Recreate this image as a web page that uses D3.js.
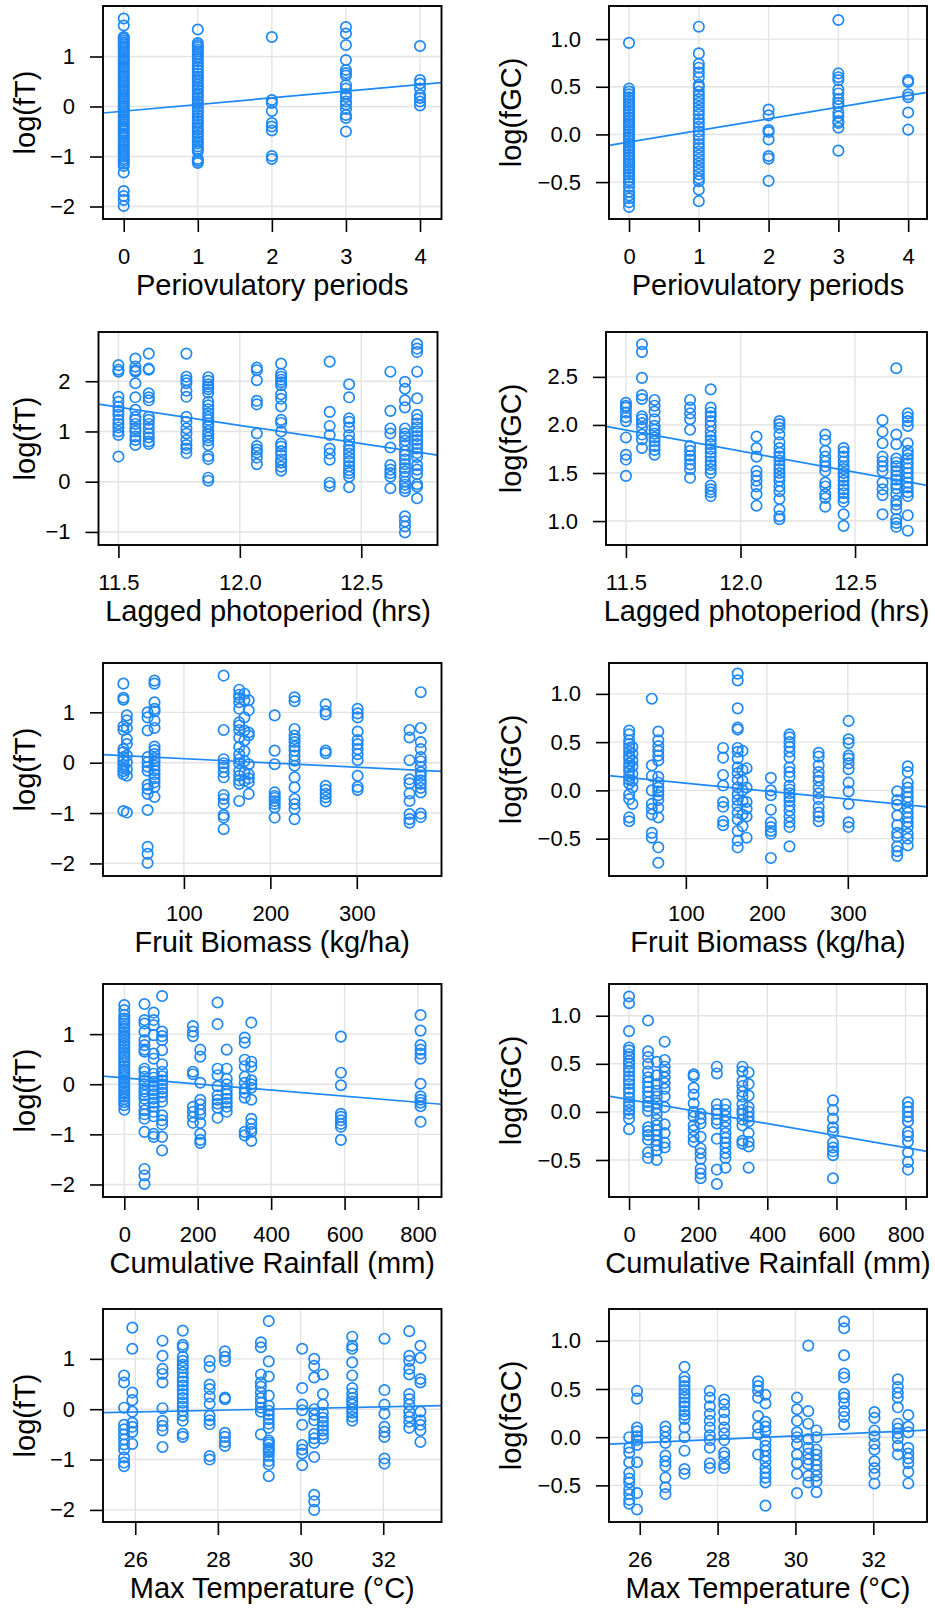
<!DOCTYPE html>
<html>
<head>
<meta charset="utf-8">
<style>
    body {
        margin: 0;
        background: #fff;
    }
    svg {
        display: block;
        font-family: 'Liberation Sans', Arial, Helvetica, sans-serif;
    }
</style>
</head>
<body>
<svg width="935" height="1608"></svg>

<script src="https://d3js.org/d3.v7.min.js"></script>
<script>
    // ---- data ----

    // row 1: periovulatory periods
    const perioX = [0, 1, 2, 3, 4];
    const perioFT = [
        [1.76, 1.62, 1.39, 1.36, 1.32, 1.28, 1.25, 1.21, 1.17, 1.12, 1.08, 1.03, 0.98, 0.94, 0.9, 0.85, 0.8, 0.76, 0.71, 0.67, 0.62, 0.57, 0.53, 0.48, 0.43, 0.39, 0.34, 0.3, 0.25, 0.2, 0.16, 0.11, 0.07, 0.02, -0.03, -0.07, -0.12, -0.17, -0.21, -0.26, -0.3, -0.35, -0.4, -0.44, -0.49, -0.54, -0.58, -0.63, -0.68, -0.72, -0.77, -0.81, -0.86, -0.91, -0.95, -1.0, -1.05, -1.09, -1.14, -1.19, -1.32, -1.69, -1.79, -1.87, -1.99],
        [1.54, 1.27, 1.23, 1.19, 1.14, 1.1, 1.05, 1.0, 0.95, 0.9, 0.84, 0.78, 0.72, 0.66, 0.6, 0.55, 0.5, 0.44, 0.38, 0.33, 0.27, 0.22, 0.16, 0.1, 0.05, -0.01, -0.07, -0.12, -0.18, -0.24, -0.3, -0.35, -0.41, -0.46, -0.52, -0.58, -0.63, -0.69, -0.74, -0.8, -0.85, -0.9, -1.05, -1.09, -1.13],
        [1.39, 0.13, 0.07, -0.09, -0.33, -0.4, -0.48, -0.99, -1.05],
        [1.59, 1.46, 1.23, 0.93, 0.73, 0.67, 0.62, 0.43, 0.36, 0.25, 0.19, 0.1, 0.04, -0.05, -0.17, -0.23, -0.5],
        [1.21, 0.53, 0.46, 0.36, 0.23, 0.17, 0.1, 0.02]
    ];
    const perioFGC = [
        [0.96, 0.48, 0.45, 0.42, 0.39, 0.36, 0.33, 0.3, 0.27, 0.24, 0.21, 0.18, 0.15, 0.12, 0.09, 0.06, 0.03, 0.0, -0.03, -0.06, -0.09, -0.12, -0.15, -0.18, -0.21, -0.24, -0.27, -0.3, -0.33, -0.36, -0.39, -0.42, -0.45, -0.48, -0.51, -0.55, -0.6, -0.64, -0.67, -0.71, -0.76],
        [1.13, 0.85, 0.74, 0.7, 0.65, 0.6, 0.52, 0.5, 0.45, 0.41, 0.37, 0.33, 0.29, 0.25, 0.21, 0.16, 0.12, 0.08, 0.03, -0.01, -0.05, -0.1, -0.14, -0.18, -0.22, -0.26, -0.3, -0.34, -0.38, -0.42, -0.46, -0.49, -0.58, -0.7],
        [0.26, 0.2, 0.045, 0.025, -0.052, -0.226, -0.254, -0.487],
        [1.2, 0.64, 0.6, 0.57, 0.47, 0.43, 0.37, 0.33, 0.3, 0.23, 0.19, 0.14, 0.12, 0.07, -0.17],
        [0.57, 0.55, 0.42, 0.39, 0.23, 0.05]
    ];

    // row 2: lagged photoperiod
    const photoX = [11.5, 11.57, 11.625, 11.78, 11.87, 12.07, 12.17, 12.37, 12.45, 12.62, 12.68, 12.73];
    const photoFT = [
        [2.32, 2.23, 2.19, 1.69, 1.59, 1.49, 1.41, 1.33, 1.23, 1.15, 1.08, 1.0, 0.93, 0.5],
        [2.45, 2.29, 2.22, 2.19, 1.96, 1.68, 1.43, 1.29, 1.23, 1.15, 1.06, 1.0, 0.9, 0.83, 0.73],
        [2.55, 2.25, 2.23, 1.76, 1.68, 1.62, 1.29, 1.23, 1.15, 1.06, 0.96, 0.88, 0.8, 0.75],
        [2.55, 2.09, 2.02, 1.96, 1.81, 1.69, 1.29, 1.19, 1.06, 0.96, 0.83, 0.73, 0.66, 0.57],
        [2.08, 2.01, 1.94, 1.89, 1.84, 1.77, 1.59, 1.52, 1.44, 1.36, 1.29, 1.23, 1.16, 1.1, 1.01, 0.95, 0.88, 0.82, 0.73, 0.51, 0.45, 0.08, 0.02],
        [2.27, 2.22, 2.02, 1.61, 1.54, 0.96, 0.71, 0.64, 0.58, 0.48, 0.35],
        [2.35, 2.15, 2.09, 2.03, 1.98, 1.92, 1.74, 1.65, 1.5, 1.23, 1.17, 1.0, 0.76, 0.7, 0.61, 0.53, 0.44, 0.38, 0.3, 0.22],
        [2.39, 1.39, 1.11, 0.93, 0.66, 0.56, 0.44, -0.02, -0.09],
        [1.94, 1.68, 1.26, 1.19, 1.08, 0.93, 0.82, 0.71, 0.63, 0.56, 0.48, 0.4, 0.31, 0.23, 0.17, 0.1, -0.11],
        [2.19, 1.41, 1.06, 0.96, 0.68, 0.33, 0.24, 0.17, 0.1, -0.13],
        [1.99, 1.85, 1.62, 1.48, 1.06, 0.96, 0.9, 0.82, 0.73, 0.61, 0.53, 0.44, 0.35, 0.27, 0.2, 0.1, 0.0, -0.06, -0.13, -0.19, -0.69, -0.79, -0.89, -1.01],
        [2.74, 2.65, 2.58, 2.19, 1.66, 1.33, 1.24, 1.16, 1.08, 1.0, 0.91, 0.83, 0.75, 0.66, 0.57, 0.49, 0.33, 0.24, 0.15, -0.05, -0.1, -0.33]
    ];
    const photoFGC = [
        [2.23, 2.2, 2.18, 2.13, 2.08, 2.04, 1.87, 1.69, 1.64, 1.47],
        [2.84, 2.76, 2.49, 2.31, 2.27, 2.09, 2.06, 2.02, 1.97, 1.9, 1.85, 1.76],
        [2.26, 2.2, 2.14, 2.06, 1.99, 1.95, 1.91, 1.87, 1.83, 1.78, 1.74, 1.69],
        [2.26, 2.18, 2.12, 2.06, 1.95, 1.78, 1.73, 1.68, 1.64, 1.59, 1.54, 1.45],
        [2.37, 2.18, 2.13, 2.09, 2.04, 1.99, 1.93, 1.88, 1.84, 1.8, 1.75, 1.71, 1.67, 1.62, 1.58, 1.54, 1.5, 1.37, 1.33, 1.3, 1.26],
        [1.88, 1.76, 1.67, 1.52, 1.47, 1.42, 1.36, 1.28, 1.16],
        [2.04, 2.01, 1.97, 1.9, 1.82, 1.76, 1.71, 1.67, 1.63, 1.58, 1.54, 1.5, 1.46, 1.42, 1.36, 1.31, 1.23, 1.12, 1.05, 1.02],
        [1.9, 1.84, 1.73, 1.67, 1.62, 1.57, 1.52, 1.4, 1.36, 1.28, 1.24, 1.15],
        [1.76, 1.72, 1.67, 1.62, 1.57, 1.54, 1.5, 1.46, 1.42, 1.37, 1.33, 1.29, 1.24, 1.2, 1.07, 0.95],
        [2.05, 1.93, 1.81, 1.67, 1.62, 1.57, 1.52, 1.4, 1.33, 1.27, 1.07],
        [2.59, 1.9, 1.8, 1.65, 1.61, 1.57, 1.52, 1.47, 1.43, 1.38, 1.34, 1.28, 1.21, 1.17, 1.12, 1.02, 0.98, 0.94],
        [2.12, 2.08, 2.04, 1.99, 1.81, 1.73, 1.69, 1.65, 1.6, 1.55, 1.5, 1.45, 1.4, 1.35, 1.3, 1.26, 1.06, 0.9]
    ];

    // row 3: fruit biomass
    const fruitX = [30, 34, 58, 66, 146, 164, 170, 175, 205, 228, 264, 301, 361, 374];
    const fruitFT = [
        [1.57, 1.29, 1.25, 0.72, 0.65, 0.27, 0.21, 0.11, 0.04, -0.04, -0.11, -0.17, -0.23, -0.96],
        [0.94, 0.84, 0.69, 0.47, 0.37, 0.14, 0.01, -0.13, -0.26, -0.99],
        [1.0, 0.9, 0.64, 0.11, 0.01, -0.08, -0.16, -0.44, -0.52, -0.62, -0.94, -1.67, -1.81, -1.99],
        [1.63, 1.57, 1.2, 1.07, 1.02, 0.84, 0.69, 0.32, 0.25, 0.17, 0.09, 0.03, -0.06, -0.15, -0.23, -0.31, -0.39, -0.48, -0.68],
        [1.73, 0.65, 0.07, -0.01, -0.09, -0.19, -0.29, -0.64, -0.72, -0.82, -1.04, -1.09, -1.32],
        [1.45, 1.35, 1.29, 1.2, 1.07, 0.8, 0.74, 0.65, 0.5, 0.31, 0.17, 0.07, -0.01, -0.16, -0.26, -0.35, -0.42, -0.76],
        [1.37, 1.24, 0.9, 0.64, 0.44, 0.23, 0.03, -0.19, -0.36],
        [1.24, 1.04, 0.6, 0.54, -0.03, -0.23, -0.31, -0.39, -0.62],
        [0.94, 0.24, -0.03, -0.59, -0.66, -0.7, -0.76, -0.82, -0.89, -1.09],
        [1.3, 1.22, 0.67, 0.54, 0.47, 0.41, 0.32, 0.24, 0.14, 0.04, -0.06, -0.29, -0.49, -0.72, -0.82, -0.92, -1.12],
        [1.16, 1.02, 0.96, 0.24, 0.19, -0.46, -0.54, -0.62, -0.69, -0.77],
        [1.07, 0.98, 0.9, 0.62, 0.45, 0.37, 0.27, 0.17, 0.05, -0.26, -0.48, -0.54],
        [0.65, 0.5, 0.05, -0.33, -0.41, -0.61, -0.76, -1.02, -1.12, -1.19],
        [1.4, 0.69, 0.41, 0.27, 0.11, 0.03, -0.08, -0.19, -0.26, -0.35, -0.42, -0.5, -0.59, -1.01, -1.08]
    ];
    const fruitFGC = [
        [0.62, 0.58, 0.52, 0.48, 0.44, 0.4, 0.36, 0.33, 0.28, 0.24, 0.2, 0.15, 0.11, 0.07, -0.04, -0.09, -0.28, -0.32],
        [0.45, 0.38, 0.31, 0.25, 0.17, 0.1, 0.03, -0.14],
        [0.95, 0.26, 0.15, 0.0, -0.14, -0.19, -0.25, -0.44, -0.49],
        [0.61, 0.52, 0.46, 0.41, 0.36, 0.31, 0.14, 0.08, 0.03, -0.01, -0.05, -0.1, -0.18, -0.28, -0.59, -0.75],
        [0.44, 0.34, 0.16, 0.05, -0.12, -0.17, -0.32, -0.36],
        [1.21, 1.14, 0.85, 0.65, 0.63, 0.44, 0.4, 0.33, 0.24, 0.18, 0.11, 0.03, -0.04, -0.1, -0.16, -0.23, -0.3, -0.42, -0.52, -0.59],
        [0.41, 0.21, 0.1, 0.0, -0.11, -0.25, -0.37],
        [0.23, 0.03, -0.12, -0.19, -0.27, -0.49],
        [0.13, 0.0, -0.05, -0.2, -0.33, -0.38, -0.42, -0.45, -0.7],
        [0.58, 0.55, 0.5, 0.45, 0.4, 0.34, 0.24, 0.19, 0.14, 0.05, 0.01, -0.03, -0.07, -0.11, -0.16, -0.21, -0.27, -0.33, -0.38, -0.58],
        [0.39, 0.35, 0.26, 0.19, 0.14, 0.1, 0.03, -0.03, -0.09, -0.17, -0.23, -0.27, -0.32],
        [0.72, 0.53, 0.49, 0.36, 0.33, 0.28, 0.22, 0.08, -0.01, -0.14, -0.33, -0.38],
        [-0.01, -0.1, -0.15, -0.26, -0.36, -0.44, -0.48, -0.58, -0.63, -0.68],
        [0.25, 0.19, 0.08, 0.03, -0.02, -0.07, -0.12, -0.18, -0.23, -0.28, -0.33, -0.38, -0.45, -0.5, -0.57]
    ];

    // row 4: cumulative rainfall
    const rainX = [0, 55, 80, 103, 187, 207, 254, 279, 328, 346, 590, 807];
    const rainFT = [
        [1.58, 1.48, 1.38, 1.31, 1.26, 1.21, 1.15, 1.1, 1.04, 0.98, 0.93, 0.87, 0.81, 0.76, 0.7, 0.64, 0.58, 0.53, 0.47, 0.42, 0.36, 0.3, 0.25, 0.19, 0.14, 0.08, 0.03, -0.03, -0.08, -0.14, -0.19, -0.25, -0.3, -0.36, -0.42, -0.51],
        [1.6, 1.28, 1.21, 1.05, 0.88, 0.78, 0.69, 0.65, 0.31, 0.25, 0.15, 0.07, 0.0, -0.09, -0.15, -0.22, -0.29, -0.4, -0.52, -0.6, -0.69, -0.95, -1.69, -1.82, -1.99],
        [1.43, 1.28, 1.18, 0.98, 0.61, 0.51, 0.21, 0.13, 0.05, -0.04, -0.12, -0.2, -0.29, -0.37, -0.45, -0.55, -0.64, -0.99, -1.05],
        [1.76, 1.05, 0.96, 0.88, 0.68, 0.4, 0.25, 0.16, 0.08, 0.0, -0.09, -0.17, -0.25, -0.35, -0.62, -0.72, -0.8, -1.05, -1.32],
        [1.16, 1.05, 0.96, 0.25, 0.2, -0.45, -0.55, -0.65, -0.77],
        [0.69, 0.55, 0.03, -0.31, -0.4, -0.51, -0.6, -0.77, -0.99, -1.11, -1.17],
        [1.63, 1.2, 0.31, 0.18, -0.04, -0.22, -0.31, -0.39, -0.47, -0.67],
        [0.69, 0.31, 0.11, 0.0, -0.11, -0.2, -0.29, -0.37, -0.45, -0.55],
        [0.93, 0.83, 0.49, 0.36, 0.15, 0.03, -0.09, -0.17, -0.27, -0.95, -1.02],
        [1.23, 0.45, 0.35, 0.08, 0.0, -0.07, -0.31, -0.69, -0.79, -0.89, -0.95, -1.13],
        [0.95, 0.23, -0.02, -0.59, -0.65, -0.72, -0.79, -0.85, -1.11],
        [1.38, 1.07, 0.78, 0.69, 0.61, 0.51, 0.01, -0.24, -0.31, -0.37, -0.44, -0.75]
    ];
    const rainFGC = [
        [1.2, 1.13, 0.84, 0.67, 0.64, 0.6, 0.57, 0.53, 0.5, 0.46, 0.42, 0.37, 0.33, 0.29, 0.24, 0.2, 0.15, 0.1, 0.06, 0.02, -0.02, -0.07, -0.18],
        [0.95, 0.63, 0.57, 0.5, 0.42, 0.36, 0.31, 0.26, 0.21, 0.16, 0.1, 0.06, 0.01, -0.16, -0.2, -0.24, -0.29, -0.42, -0.48],
        [0.52, 0.38, 0.29, 0.22, 0.16, 0.09, 0.04, -0.02, -0.08, -0.14, -0.19, -0.24, -0.3, -0.35, -0.4, -0.5],
        [0.73, 0.54, 0.47, 0.42, 0.36, 0.3, 0.24, 0.16, 0.05, -0.13, -0.22, -0.32, -0.37],
        [0.39, 0.37, 0.25, 0.18, 0.09, 0.0, -0.05, -0.14, -0.19, -0.26, -0.31],
        [-0.02, -0.07, -0.12, -0.26, -0.38, -0.43, -0.49, -0.59, -0.64, -0.69],
        [0.47, 0.4, 0.08, 0.02, -0.02, -0.08, -0.12, -0.28, -0.6, -0.75],
        [0.08, 0.02, -0.04, -0.1, -0.16, -0.22, -0.27, -0.32, -0.37, -0.43, -0.48, -0.58],
        [0.47, 0.42, 0.32, 0.27, 0.21, 0.16, 0.08, 0.02, -0.02, -0.08, -0.14, -0.3, -0.33],
        [0.41, 0.29, 0.17, 0.05, 0.0, -0.05, -0.1, -0.22, -0.31, -0.36, -0.58],
        [0.12, 0.02, -0.07, -0.16, -0.21, -0.32, -0.37, -0.41, -0.45, -0.69],
        [0.1, 0.05, 0.0, -0.05, -0.1, -0.21, -0.25, -0.31, -0.42, -0.52, -0.6]
    ];

    // row 5: max temperature
    const tempX = [25.73, 25.93, 26.66, 27.15, 27.8, 28.17, 29.04, 29.23, 30.04, 30.33, 30.54, 31.25, 32.03, 32.63, 32.9];
    const tempFT = [
        [0.67, 0.53, 0.03, -0.31, -0.4, -0.5, -0.6, -0.7, -0.8, -0.96, -1.06, -1.13],
        [1.62, 1.2, 0.33, 0.18, -0.05, -0.27, -0.35, -0.45, -0.69],
        [1.36, 1.06, 0.8, 0.7, 0.53, 0.02, -0.23, -0.33, -0.42, -0.75],
        [1.56, 1.28, 1.23, 1.04, 0.96, 0.88, 0.82, 0.73, 0.63, 0.55, 0.47, 0.38, 0.3, 0.22, 0.13, 0.05, -0.03, -0.13, -0.23, -0.49, -0.55],
        [0.96, 0.84, 0.49, 0.4, 0.25, 0.11, -0.13, -0.22, -0.3, -0.93, -1.0],
        [1.15, 1.04, 0.96, 0.23, 0.2, -0.47, -0.55, -0.65, -0.73],
        [1.33, 1.23, 0.69, 0.53, 0.45, 0.33, 0.22, 0.13, 0.03, -0.05, -0.5],
        [1.75, 0.95, 0.65, 0.27, 0.07, -0.03, -0.11, -0.2, -0.29, -0.37, -0.62, -0.66, -0.7, -0.77, -0.81, -0.85, -0.93, -1.03, -1.1, -1.33],
        [1.2, 0.42, 0.09, -0.02, -0.31, -0.71, -0.8, -0.88, -1.11],
        [1.0, 0.86, 0.63, 0.0, -0.11, -0.22, -0.49, -0.58, -0.67, -0.95, -1.7, -1.83, -2.0],
        [0.69, 0.3, 0.09, -0.07, -0.17, -0.25, -0.33, -0.42, -0.5, -0.58],
        [1.44, 1.26, 1.2, 0.93, 0.67, 0.42, 0.31, 0.22, 0.15, 0.09, 0.0, -0.07, -0.15, -0.23],
        [1.4, 0.38, 0.09, -0.09, -0.35, -0.45, -0.55, -0.98, -1.08],
        [1.55, 1.06, 0.96, 0.8, 0.69, 0.3, 0.2, 0.09, -0.05, -0.15, -0.25, -0.37],
        [1.26, 1.02, 0.6, 0.53, -0.05, -0.22, -0.31, -0.42, -0.65]
    ];
    const tempFGC = [
        [0.0, -0.11, -0.16, -0.26, -0.37, -0.43, -0.47, -0.54, -0.59, -0.65, -0.69],
        [0.48, 0.4, 0.1, 0.06, 0.01, -0.03, -0.08, -0.26, -0.58, -0.75],
        [0.11, 0.06, 0.0, -0.06, -0.19, -0.25, -0.3, -0.42, -0.52, -0.59],
        [0.73, 0.62, 0.58, 0.53, 0.49, 0.45, 0.41, 0.36, 0.32, 0.27, 0.23, 0.19, 0.1, 0.0, -0.14, -0.33, -0.38],
        [0.48, 0.41, 0.32, 0.24, 0.17, 0.1, 0.02, -0.03, -0.11, -0.27, -0.32],
        [0.39, 0.34, 0.26, 0.18, 0.1, 0.04, -0.03, -0.16, -0.2, -0.28, -0.32],
        [0.58, 0.53, 0.48, 0.41, 0.22, 0.1, 0.03, -0.18],
        [0.44, 0.35, 0.16, 0.11, 0.06, -0.03, -0.09, -0.14, -0.2, -0.25, -0.32, -0.37, -0.42, -0.47, -0.71],
        [0.41, 0.29, 0.17, 0.05, 0.0, -0.07, -0.18, -0.27, -0.38, -0.58],
        [0.95, 0.27, 0.14, -0.02, -0.11, -0.17, -0.23, -0.28, -0.4, -0.47],
        [0.07, 0.0, -0.13, -0.18, -0.24, -0.29, -0.34, -0.4, -0.46, -0.57],
        [1.2, 1.13, 0.85, 0.66, 0.62, 0.45, 0.41, 0.35, 0.27, 0.21, 0.13],
        [0.26, 0.2, 0.07, 0.01, -0.07, -0.13, -0.25, -0.32, -0.38, -0.48],
        [0.6, 0.52, 0.46, 0.41, 0.31, 0.14, 0.09, 0.04, -0.01, -0.09, -0.18],
        [0.23, 0.11, 0.05, -0.11, -0.17, -0.22, -0.27, -0.36, -0.48]
    ];

    // fitted lines [intercept, slope]
    const fitFT = [[-0.093, 0.133], [9.846, -0.727], [0.165, -0.00085], [0.125, -0.000607], [-0.5, 0.0171]];
    const fitFGC = [[-0.08, 0.122], [6.984, -0.438], [0.157, -0.000822], [0.127, -0.000623], [-0.524, 0.0179]];

    // axes
    const xTitles = ["Periovulatory periods", "Lagged photoperiod (hrs)", "Fruit Biomass (kg/ha)", "Cumulative Rainfall (mm)", "Max Temperature (°C)"];
    const yTitles = ["log(fT)", "log(fGC)"];
    const xTicks = [[0, 1, 2, 3, 4], [11.5, 12.0, 12.5], [100, 200, 300], [0, 200, 400, 600, 800], [26, 28, 30, 32]];
    const yTicksFT = [[-2, -1, 0, 1], [-1, 0, 1, 2], [-2, -1, 0, 1], [-2, -1, 0, 1], [-2, -1, 0, 1]];
    const yTicksFGC = [[-0.5, 0, 0.5, 1], [1, 1.5, 2, 2.5], [-0.5, 0, 0.5, 1], [-0.5, 0, 0.5, 1], [-0.5, 0, 0.5, 1]];
    const xDomFT = [[-0.28, 4.29], [11.418, 12.814], [6.4, 398], [-58, 864], [25.22, 33.41]];
    const xDomFGC = [[-0.287, 4.27], [11.413, 12.814], [5.1, 397.8], [-58, 862], [25.21, 33.38]];
    const yDomFT = [[-2.25, 2.01], [-1.26, 2.98], [-2.25, 1.98], [-2.25, 2.0], [-2.24, 1.99]];
    const yDomFGC = [[-0.887, 1.347], [0.751, 2.967], [-0.887, 1.32], [-0.885, 1.33], [-0.88, 1.33]];
    const xFormats = ["d", ".1f", "d", "d", "d"];

    // ---- layout ----
    const rowTop = [6, 332, 663, 984, 1309];
    const boxH = 213;
    const leftBox = [[103, 441.5], [98.5, 437.5], [103, 441.5], [103, 441.5], [103, 441.5]];
    const rightBox = [[609, 927], [606, 927], [609, 927], [609, 927], [609, 927]];
    const blue = "#1E88F5";
    const ink = "#000";
    const tickFont = 22;
    const titleFont = 29;

    const xsByRow = [perioX, photoX, fruitX, rainX, tempX];
    const ftByRow = [perioFT, photoFT, fruitFT, rainFT, tempFT];
    const fgcByRow = [perioFGC, photoFGC, fruitFGC, rainFGC, tempFGC];

    let svg = d3.select("svg");

    function drawPanel(p) {
        let x = d3.scaleLinear().domain(p.xDom).range([p.x0, p.x1]);
        let y = d3.scaleLinear().domain(p.yDom).range([p.y1, p.y0]);
        let g = svg.append("g");

        // grid
        g.selectAll(".vgrid")
            .data(p.xTicks)
            .join("line")
            .attr("x1", d => x(d)).attr("x2", d => x(d))
            .attr("y1", p.y0).attr("y2", p.y1)
            .attr("stroke", "#e3e3e3")
            .attr("stroke-width", 1.4);

        g.selectAll(".hgrid")
            .data(p.yTicks)
            .join("line")
            .attr("x1", p.x0).attr("x2", p.x1)
            .attr("y1", d => y(d)).attr("y2", d => y(d))
            .attr("stroke", "#e3e3e3")
            .attr("stroke-width", 1.4);

        // axes
        let xa = g.append("g")
            .attr("transform", `translate(0,${p.y1})`)
            .call(d3.axisBottom(x)
                .tickValues(p.xTicks)
                .tickSize(13)
                .tickSizeOuter(0)
                .tickPadding(16)
                .tickFormat(d3.format(p.xFmt)));

        let ya = g.append("g")
            .attr("transform", `translate(${p.x0},0)`)
            .call(d3.axisLeft(y)
                .tickValues(p.yTicks)
                .tickSize(13)
                .tickSizeOuter(0)
                .tickPadding(15)
                .tickFormat(d3.format(p.yFmt)));

        [xa, ya].forEach(a => {
            a.attr("font-size", tickFont).attr("font-family", null);
            a.select(".domain").remove();
            a.selectAll(".tick line").attr("stroke", ink).attr("stroke-width", 1.6);
            a.selectAll(".tick text").attr("fill", ink);
        });

        // points
        let pts = [];
        p.xs.forEach((xv, i) => p.ys[i].forEach(yv => pts.push([xv, yv])));

        g.selectAll("circle")
            .data(pts)
            .join("circle")
            .attr("cx", d => x(d[0]))
            .attr("cy", d => y(d[1]))
            .attr("r", 5.2)
            .attr("fill", "none")
            .attr("stroke", blue)
            .attr("stroke-width", 1.7);

        // fitted line
        let line = d3.line().x(d => x(d)).y(d => y(p.fit[0] + p.fit[1] * d));
        g.append("path")
            .attr("d", line(p.xDom))
            .attr("fill", "none")
            .attr("stroke", blue)
            .attr("stroke-width", 1.7);

        // box
        g.append("rect")
            .attr("x", p.x0).attr("y", p.y0)
            .attr("width", p.x1 - p.x0).attr("height", p.y1 - p.y0)
            .attr("fill", "none")
            .attr("stroke", ink)
            .attr("stroke-width", 1.9);

        // titles
        g.append("text")
            .attr("x", (p.x0 + p.x1) / 2)
            .attr("y", p.y1 + 76)
            .attr("text-anchor", "middle")
            .attr("font-size", titleFont)
            .attr("fill", ink)
            .text(p.xTitle);

        g.append("text")
            .attr("transform", `translate(${p.yTitleX},${(p.y0 + p.y1) / 2}) rotate(-90)`)
            .attr("text-anchor", "middle")
            .attr("font-size", titleFont)
            .attr("fill", ink)
            .text(p.yTitle);
    }

    for (let r = 0; r < 5; r++) {
        drawPanel({
            x0: leftBox[r][0], x1: leftBox[r][1],
            y0: rowTop[r], y1: rowTop[r] + boxH,
            xDom: xDomFT[r], yDom: yDomFT[r],
            xTicks: xTicks[r], yTicks: yTicksFT[r],
            xFmt: xFormats[r], yFmt: "d",
            xs: xsByRow[r], ys: ftByRow[r],
            fit: fitFT[r],
            xTitle: xTitles[r], yTitle: yTitles[0],
            yTitleX: 35
        });
        drawPanel({
            x0: rightBox[r][0], x1: rightBox[r][1],
            y0: rowTop[r], y1: rowTop[r] + boxH,
            xDom: xDomFGC[r], yDom: yDomFGC[r],
            xTicks: xTicks[r], yTicks: yTicksFGC[r],
            xFmt: xFormats[r], yFmt: ".1f",
            xs: xsByRow[r], ys: fgcByRow[r],
            fit: fitFGC[r],
            xTitle: xTitles[r], yTitle: yTitles[1],
            yTitleX: 520.5
        });
    }
</script>
</body>
</html>
